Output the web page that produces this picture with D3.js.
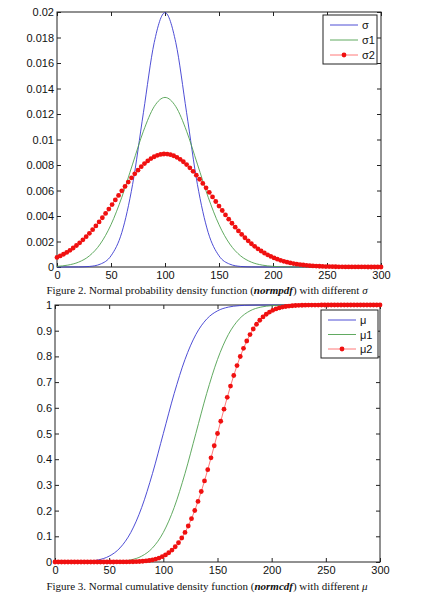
<!DOCTYPE html>
<html>
<head>
<meta charset="utf-8">
<script src="https://cdn.jsdelivr.net/npm/d3@7"></script>
<style>
  body { margin: 0; background: #fff; }
  .tick text { font-family: "Liberation Sans", Arial, sans-serif; font-size: 11px; fill: #111; }
</style>
</head>
<body>
<script>
// sample grids (x values in the original units)
var lineX = [0, 10, 20, 30, 40, 50, 60, 70, 80, 90, 100, 110, 120, 130, 140, 150,
             160, 170, 180, 190, 200, 210, 220, 230, 240, 250, 260, 270, 280, 290, 300];
var dotX = d3.range(0, 301, 3); // red markers every 3 units

var xTicks = [0, 50, 100, 150, 200, 250, 300];
var pdfTicks = [0, 0.002, 0.004, 0.006, 0.008, 0.01, 0.012, 0.014, 0.016, 0.018, 0.02];
var cdfTicks = [0, 0.1, 0.2, 0.3, 0.4, 0.5, 0.6, 0.7, 0.8, 0.9, 1];

// Figure 2 - normpdf
var pdfSigma = [0, 0, 0.0000067, 0.0000437, 0.000222, 0.000876, 0.0027, 0.00648, 0.0121, 0.0176,
                0.01995, 0.0176, 0.0121, 0.00648, 0.0027, 0.000876, 0.000222, 0.0000437, 0.0000067, 0,
                0, 0, 0, 0, 0, 0, 0, 0, 0, 0, 0];
var pdfSigma1 = [0.0000514, 0.000148, 0.00038, 0.000874, 0.0018, 0.00332, 0.00547, 0.00807, 0.01065, 0.01258,
                 0.0133, 0.01258, 0.01065, 0.00807, 0.00547, 0.00332, 0.0018, 0.000874, 0.00038, 0.000148,
                 0.0000514, 0.000016, 0.0000045, 0.000001, 0, 0, 0, 0, 0, 0, 0];
var pdfSigma2 = [
  0.00075, 0.000868, 0.001, 0.001147, 0.00131, 0.001489, 0.001685, 0.001899, 0.00213, 0.002378,
  0.002644, 0.002926, 0.003224, 0.003537, 0.003863, 0.0042, 0.004547, 0.0049, 0.005257, 0.005616,
  0.005972, 0.006322, 0.006664, 0.006992, 0.007305, 0.007597, 0.007866, 0.008109, 0.008322, 0.008503,
  0.008649, 0.008758, 0.00883, 0.008863, 0.008856, 0.00881, 0.008726, 0.008604, 0.008446, 0.008254,
  0.008031, 0.00778, 0.007502, 0.007203, 0.006884, 0.006551, 0.006206, 0.005854, 0.005496, 0.005138,
  0.004782, 0.004431, 0.004087, 0.003753, 0.003431, 0.003123, 0.00283, 0.002553, 0.002293, 0.002051,
  0.001825, 0.001618, 0.001428, 0.001254, 0.001097, 0.000955, 0.000828, 0.000714, 0.000613, 0.000525,
  0.000447, 0.000379, 0.00032, 0.000269, 0.000225, 0.000187, 0.000155, 0.000128, 0.000105, 0.000086,
  0.00007, 0.000057, 0.000046, 0.000037, 0.00003, 0.000024, 0.000019, 0.000015, 0.000012, 0.000009,
  0.000007, 0.0000055, 0.000004, 0.000003, 0.0000025, 0.000002, 0.0000014, 0.000001, 0.0000008, 0.0000006,
  0.0000005];

// Figure 3 - normcdf
var cdfMu = [0.00003, 0.00016, 0.00069, 0.00256, 0.0082, 0.02275, 0.0548, 0.1151, 0.2119, 0.3446,
             0.5, 0.6554, 0.7881, 0.8849, 0.9452, 0.97725, 0.9918, 0.99744, 0.99931, 0.99984,
             0.99997, 1, 1, 1, 1, 1, 1, 1, 1, 1, 1];
var cdfMu1 = [0, 0, 0.000005, 0.00003, 0.00016, 0.00069, 0.00256, 0.0082, 0.02275, 0.0548,
              0.1151, 0.2119, 0.3446, 0.5, 0.6554, 0.7881, 0.8849, 0.9452, 0.97725, 0.9918,
              0.99744, 0.99931, 0.99984, 0.99997, 1, 1, 1, 1, 1, 1, 1];
var cdfMu2 = [
  0, 0, 0, 0, 0, 0, 0, 0, 0, 0,
  0, 0, 0, 0, 0.00001, 0.00001, 0.00002, 0.00004, 0.00006, 0.0001,
  0.00016, 0.00025, 0.00039, 0.0006, 0.0009, 0.00135, 0.00199, 0.00289, 0.00415, 0.00587,
  0.0082, 0.0113, 0.01539, 0.02068, 0.02743, 0.03593, 0.04648, 0.05938, 0.07493, 0.09342,
  0.11507, 0.14007, 0.16853, 0.20045, 0.23576, 0.27425, 0.31561, 0.35942, 0.40517, 0.45224,
  0.5, 0.54776, 0.59483, 0.64058, 0.68439, 0.72575, 0.76424, 0.79955, 0.83147, 0.85993,
  0.88493, 0.90658, 0.92507, 0.94062, 0.95352, 0.96407, 0.97257, 0.97932, 0.98461, 0.9887,
  0.9918, 0.99413, 0.99585, 0.99711, 0.99801, 0.99865, 0.9991, 0.9994, 0.99961, 0.99975,
  0.99984, 0.9999, 0.99994, 0.99996, 0.99998, 0.99999, 0.99999, 1, 1, 1,
  1, 1, 1, 1, 1, 1, 1, 1, 1, 1,
  1];

var pdfNames = ["\u03c3", "\u03c31", "\u03c32"];
var cdfNames = ["\u03bc", "\u03bc1", "\u03bc2"];

var W = 422, H = 595;
var BLUE = "#3a3ad0", GREEN = "#4fa04f", RED = "#f01010", PINK = "#ff6a6a";

var svg = d3.select("body").append("svg")
    .attr("width", W)
    .attr("height", H);

function panel(box, yDomain, yTicks, yFmt, lineA, lineB, dots, names) {
  var x = d3.scaleLinear().domain([0, 300]).range([box.left, box.right]);
  var y = d3.scaleLinear().domain(yDomain).range([box.bottom, box.top]);
  var g = svg.append("g");

  // ticks inside on all four sides, like matlab
  g.append("g").attr("transform", "translate(0," + box.bottom + ")")
    .call(d3.axisBottom(x).tickValues(xTicks).tickSize(-4).tickPadding(4))
    .call(function(a) { a.select(".domain").remove(); });
  g.append("g").attr("transform", "translate(0," + box.top + ")")
    .call(d3.axisTop(x).tickValues(xTicks).tickSize(-4).tickFormat(""))
    .call(function(a) { a.select(".domain").remove(); });
  g.append("g").attr("transform", "translate(" + box.left + ",0)")
    .call(d3.axisLeft(y).tickValues(yTicks).tickSize(-4).tickPadding(3).tickFormat(yFmt))
    .call(function(a) { a.select(".domain").remove(); });
  g.append("g").attr("transform", "translate(" + box.right + ",0)")
    .call(d3.axisRight(y).tickValues(yTicks).tickSize(-4).tickFormat(""))
    .call(function(a) { a.select(".domain").remove(); });
  g.selectAll(".tick line").attr("stroke", "#222");

  g.append("rect")
    .attr("x", box.left).attr("y", box.top)
    .attr("width", box.right - box.left).attr("height", box.bottom - box.top)
    .attr("fill", "none").attr("stroke", "#222").attr("stroke-width", 1);

  var smooth = d3.line()
    .x(function(d, i) { return x(lineX[i]); })
    .y(function(d) { return y(d); })
    .curve(d3.curveMonotoneX);

  g.append("path").datum(lineA).attr("d", smooth)
    .attr("fill", "none").attr("stroke", BLUE).attr("stroke-width", 0.9);
  g.append("path").datum(lineB).attr("d", smooth)
    .attr("fill", "none").attr("stroke", GREEN).attr("stroke-width", 0.9);

  var straight = d3.line()
    .x(function(d, i) { return x(dotX[i]); })
    .y(function(d) { return y(d); });
  g.append("path").datum(dots).attr("d", straight)
    .attr("fill", "none").attr("stroke", PINK).attr("stroke-width", 0.9);
  g.selectAll("circle.dot").data(dots).enter().append("circle")
    .attr("class", "dot")
    .attr("cx", function(d, i) { return x(dotX[i]); })
    .attr("cy", function(d) { return y(d); })
    .attr("r", 2.4)
    .attr("fill", RED);

  // legend
  var lg = g.append("g");
  lg.append("rect")
    .attr("x", box.legX).attr("y", box.legY)
    .attr("width", box.legW).attr("height", box.legH)
    .attr("fill", "#fff").attr("stroke", "#222").attr("stroke-width", 1);
  var colors = [BLUE, GREEN, PINK];
  names.forEach(function(n, i) {
    var yy = box.legY + 10 + i * box.legStep;
    lg.append("line")
      .attr("x1", box.legX + 7).attr("x2", box.legX + 35)
      .attr("y1", yy).attr("y2", yy)
      .attr("stroke", colors[i]).attr("stroke-width", 0.9);
    if (i == 2) {
      lg.append("circle").attr("cx", box.legX + 21).attr("cy", yy).attr("r", 2.4).attr("fill", RED);
    }
    lg.append("text")
      .attr("x", box.legX + 39).attr("y", yy + 4)
      .style("font-family", "Liberation Sans, Arial, sans-serif")
      .style("font-size", "11px")
      .attr("fill", "#111")
      .text(n);
  });
}

panel({left: 57, right: 381, top: 12, bottom: 267, legX: 323, legY: 15, legW: 54, legH: 49, legStep: 15},
      [0, 0.02], pdfTicks, d3.format("~g"), pdfSigma, pdfSigma1, pdfSigma2, pdfNames);
panel({left: 55, right: 380, top: 305, bottom: 562, legX: 321, legY: 310, legW: 57, legH: 48, legStep: 14.5},
      [0, 1], cdfTicks, d3.format("~g"), cdfMu, cdfMu1, cdfMu2, cdfNames);

// captions
function caption(yPos, num, what, fn, sym) {
  var t = svg.append("text")
    .attr("x", 207).attr("y", yPos)
    .attr("text-anchor", "middle")
    .style("font-family", "Liberation Serif, Times New Roman, serif")
    .style("font-size", "11px")
    .attr("fill", "#111");
  t.append("tspan").text("Figure " + num + ". Normal " + what + " function (");
  t.append("tspan").style("font-weight", "bold").style("font-style", "italic").text(fn);
  t.append("tspan").text(") with different  ");
  t.append("tspan").style("font-style", "italic").text(sym);
}
caption(294, 2, "probability density", "normpdf", "\u03c3");
caption(590, 3, "cumulative density", "normcdf", "\u03bc");
</script>
</body>
</html>
